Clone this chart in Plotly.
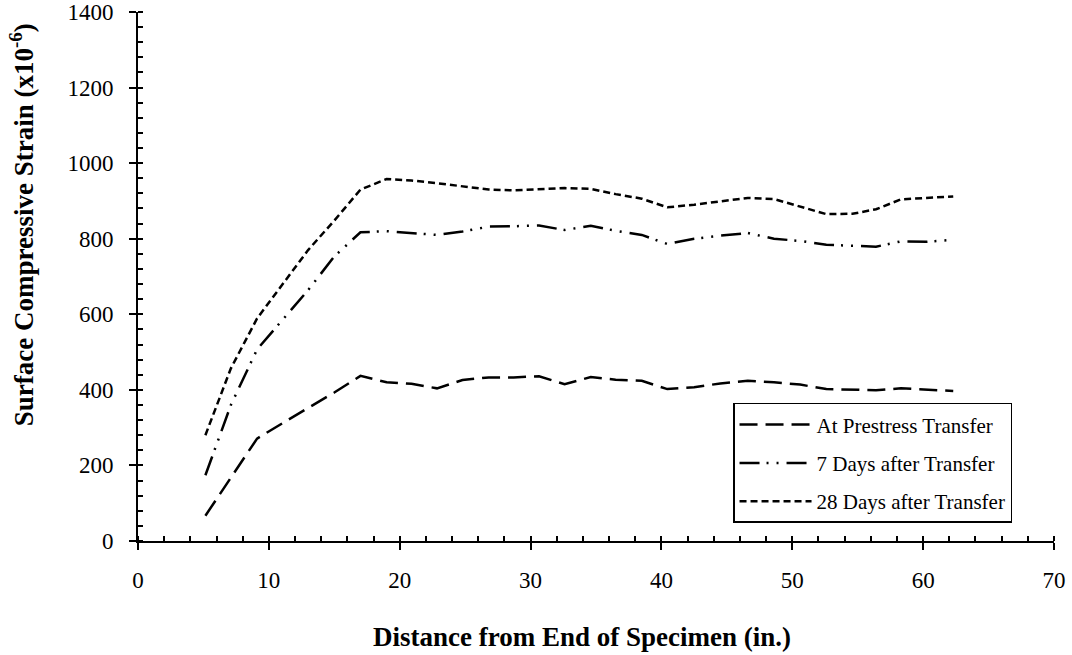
import plotly.graph_objects as go

# Distance from end of specimen (in.)
distance = [5.15, 7.1, 9.1, 11.05, 13.0, 15.0, 17.0, 19.0, 20.9, 22.85,
            24.8, 26.8, 28.7, 30.65, 32.6, 34.6, 36.5, 38.5, 40.45, 42.5,
            44.5, 46.6, 48.6, 50.6, 52.6, 54.6, 56.4, 58.3, 60.3, 62.3]

# Surface compressive strain (x10^-6)
at_transfer = [67, 168, 271, 312, 352, 393, 437, 420, 416, 404,
               426, 433, 433, 436, 415, 434, 427, 424, 402, 407,
               417, 424, 420, 414, 402, 401, 399, 404, 400, 397]
days_7 = [174, 360, 507, 585, 664, 753, 817, 820, 815, 810,
          819, 832, 833, 835, 823, 834, 821, 810, 786, 800,
          808, 815, 800, 794, 784, 782, 779, 793, 792, 797]
days_28 = [280, 457, 589, 678, 770, 848, 930, 958, 954, 947,
           938, 930, 928, 931, 934, 932, 918, 906, 883, 890,
           899, 908, 905, 886, 865, 866, 878, 904, 907, 912]

series_names = ["At Prestress Transfer", "7 Days after Transfer", "28 Days after Transfer"]
series_values = [at_transfer, days_7, days_28]
series_dash = ["18px,8px", "20px,7px,2px,8px,2px,8px", "7px,4px"]

x_ticks = [0, 10, 20, 30, 40, 50, 60, 70]
y_ticks = [0, 200, 400, 600, 800, 1000, 1200, 1400]

FONT = "Liberation Serif, Times New Roman, serif"

fig = go.Figure()
for i, (name, vals, dash) in enumerate(zip(series_names, series_values, series_dash)):
    fig.add_trace(go.Scatter(
        x=distance, y=vals, mode="lines", name=name, legendgroup=f"g{i}",
        line=dict(color="black", width=2.5, dash=dash),
    ))

axis_common = dict(showgrid=False, zeroline=False, showline=True, linecolor="black",
                   linewidth=2, ticks="outside", ticklen=7, tickwidth=2, tickcolor="black",
                   automargin=False,
                   tickfont=dict(family=FONT, size=23, color="black"))

fig.update_layout(
    width=1072, height=655,
    margin=dict(l=138, r=18, t=12, b=114),
    paper_bgcolor="white", plot_bgcolor="white",
    font=dict(family=FONT, color="black"),
    xaxis=dict(range=[0, 70], tickvals=x_ticks, ticklabelstandoff=10,
               minor=dict(dtick=2, ticks="inside", ticklen=5, tickwidth=1.5, tickcolor="black"),
               **axis_common),
    yaxis=dict(range=[0, 1400], tickvals=y_ticks, ticklabelstandoff=11,
               minor=dict(dtick=40, ticks="inside", ticklen=5, tickwidth=1.5, tickcolor="black"),
               **axis_common),
    xaxis2=dict(overlaying="x", matches="x", anchor="y", range=[0, 70], tickvals=x_ticks,
                showticklabels=False, ticks="inside", ticklen=7, tickwidth=2, tickcolor="black",
                showgrid=False, zeroline=False, showline=False, automargin=False),
    yaxis2=dict(overlaying="y", matches="y", anchor="x", range=[0, 1400], tickvals=y_ticks,
                showticklabels=False, ticks="inside", ticklen=8, tickwidth=2, tickcolor="black",
                showgrid=False, zeroline=False, showline=False, automargin=False),
    legend=dict(x=0.6496, y=0.261, xanchor="left", yanchor="top",
                bordercolor="black", borderwidth=1.5, bgcolor="white",
                font=dict(family=FONT, size=21, color="black"),
                tracegroupgap=8, itemwidth=72),
    annotations=[
        dict(text="<b>Distance from End of Specimen (in.)</b>", xref="paper", yref="paper",
             x=0.485, y=-0.181, xanchor="center", yanchor="middle", showarrow=False,
             font=dict(family=FONT, size=27, color="black")),
        dict(text="<b>Surface Compressive Strain (x10<sup>-6</sup>)</b>", xref="paper", yref="paper",
             x=-0.1266, y=0.597, xanchor="center", yanchor="middle", textangle=-90, showarrow=False,
             font=dict(family=FONT, size=27, color="black")),
    ],
)

fig.write_html("out.html")
